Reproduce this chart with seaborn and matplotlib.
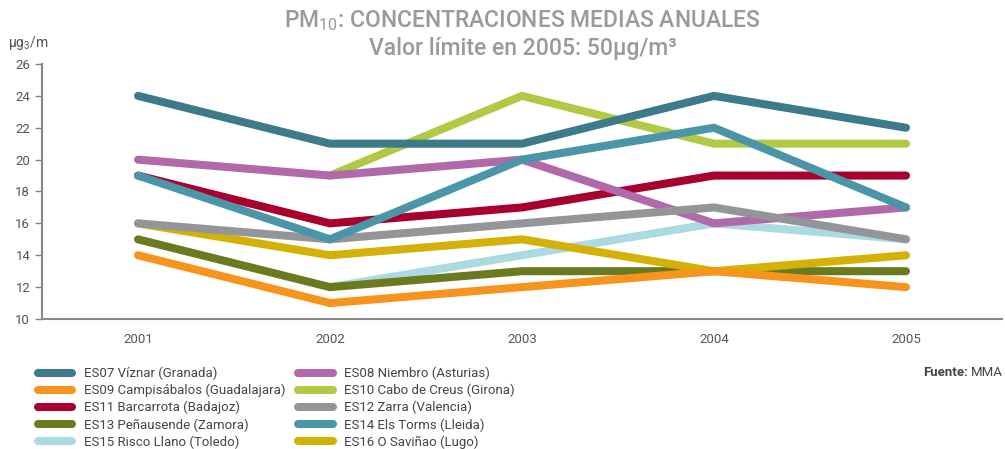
import matplotlib.pyplot as plt
from matplotlib.ticker import FixedLocator
import numpy as np
import pandas as pd
import seaborn as sns

years = [2001, 2002, 2003, 2004, 2005]
nan = np.nan

stations = [
    'ES07 Víznar (Granada)',
    'ES08 Niembro (Asturias)',
    'ES09 Campisábalos (Guadalajara)',
    'ES10 Cabo de Creus (Girona)',
    'ES11 Barcarrota (Badajoz)',
    'ES12 Zarra (Valencia)',
    'ES13 Peñausende (Zamora)',
    'ES14 Els Torms (Lleida)',
    'ES15 Risco Llano (Toledo)',
    'ES16 O Saviñao (Lugo)',
]
es07 = [24, 21, 21, 24, 22]
es08 = [20, 19, 20, 16, 17]
es09 = [14, 11, 12, 13, 12]
es10 = [nan, 19, 24, 21, 21]
es11 = [19, 16, 17, 19, 19]
es12 = [16, 15, 16, 17, 15]
es13 = [15, 12, 13, 13, 13]
es14 = [19, 15, 20, 22, 17]
es15 = [nan, 12, 14, 16, 15]
es16 = [16, 14, 15, 13, 14]
values = [es07, es08, es09, es10, es11, es12, es13, es14, es15, es16]

colors = ['#3d7b8b', '#b169a9', '#f7941e', '#b2c946', '#a8002f',
          '#949598', '#6b7a1f', '#4a96a8', '#acdae3', '#d4b106']
# drawing order (higher = on top)
zorders = [10, 7, 5, 2, 6, 8, 3, 9, 1, 4]

sns.set_style('white')
plt.rcParams['font.family'] = ['Roboto', 'DejaVu Sans']
plt.rcParams['mathtext.fontset'] = 'custom'
plt.rcParams['mathtext.rm'] = 'Roboto'

fig = plt.figure(figsize=(10.05, 4.49), dpi=100)
ax = fig.add_axes([0.0418, 0.2895, 0.9552, 0.568])

for name, vals, col, z in zip(stations, values, colors, zorders):
    df = pd.DataFrame({'year': years, 'value': vals}).dropna()
    sns.lineplot(data=df, x='year', y='value', color=col, linewidth=5.8,
                 solid_capstyle='round', solid_joinstyle='miter',
                 label=name, zorder=z, ax=ax)

ax.set_xlim(2000.5, 2005.5)
ax.set_ylim(10, 26)
ax.set_yticks(range(10, 27, 2))
ax.set_xticks(years)
ax.xaxis.set_minor_locator(FixedLocator([2000.5, 2001.5, 2002.5, 2003.5, 2004.5, 2005.5]))
ax.tick_params(axis='x', which='major', length=0, pad=10, labelsize=9.5, colors='#555555')
ax.tick_params(axis='x', which='minor', length=5, width=1, color='#888888', direction='out')
ax.tick_params(axis='y', length=5, width=1, color='#888888', labelsize=9.5,
               labelcolor='#555555', direction='out', left=True)
ax.set_xlabel('')
ax.set_ylabel('')
for side in ['top', 'right']:
    ax.spines[side].set_visible(False)
for side in ['left', 'bottom']:
    ax.spines[side].set_color('#888888')
    ax.spines[side].set_linewidth(1.5)

# titles
fig.text(0.520, 0.955, 'PM$_{\\mathrm{10}}$: CONCENTRACIONES MEDIAS ANUALES', ha='center', va='center',
         fontsize=16.5, color='#9a9a9a', fontweight='medium')
fig.text(0.520, 0.893, 'Valor límite en 2005: 50µg/m³', ha='center', va='center',
         fontsize=16.5, color='#9a9a9a', fontweight='medium')
fig.text(0.008, 0.905, 'µg$_{\\mathrm{3}}$/m', ha='left', va='center', fontsize=10, color='#555555')
fig.text(0.998, 0.17, 'MMA', ha='right', va='center', fontsize=9.5, color='#444444')
fig.text(0.963, 0.17, 'Fuente:', ha='right', va='center', fontsize=9.5,
         color='#444444', fontweight='bold')

# legend reads row by row
handles, labels = ax.get_legend_handles_labels()
order = [0, 2, 4, 6, 8, 1, 3, 5, 7, 9]
handles = [handles[i] for i in order]
names = [stations[i] for i in order]
leg = ax.legend(handles, names, loc='upper left', ncol=2, frameon=False, fontsize=9.5,
                handlelength=2.6, handletextpad=0.85, columnspacing=1.0,
                labelspacing=0.28, borderaxespad=0, borderpad=0)
leg.set_bbox_to_anchor((0.038, 0.183), transform=fig.transFigure)
for t in leg.get_texts():
    t.set_color('#444444')

fig.savefig('out.png', dpi=100)
